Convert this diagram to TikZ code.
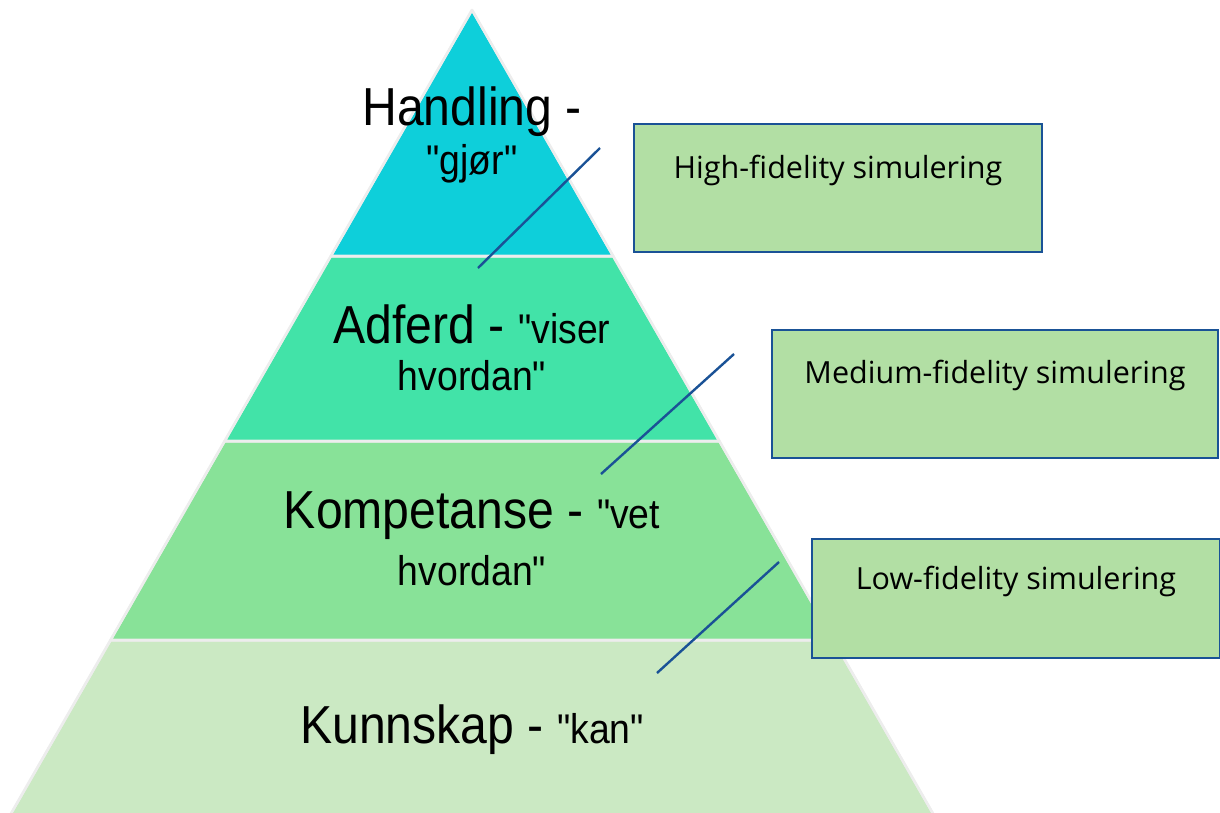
\documentclass[tikz,border=0pt]{standalone}
\usepackage{fontspec}
\setmainfont{Liberation Sans}
\newfontfamily\pyrfont[FakeStretch=0.9]{Liberation Sans}
\newfontfamily\boxfont{Open Sans}
\definecolor{lay1}{HTML}{0ECFDA}
\definecolor{lay2}{HTML}{42E3A8}
\definecolor{lay3}{HTML}{88E298}
\definecolor{lay4}{HTML}{CBE9C3}
\definecolor{sepcol}{HTML}{EDEDED}
\definecolor{boxfill}{HTML}{B2DFA4}
\definecolor{boxline}{HTML}{1A5296}
\newcommand{\bigt}{\pyrfont\fontsize{53.5}{60}\selectfont}
\newcommand{\smallt}{\pyrfont\fontsize{41.5}{48}\selectfont}
\tikzset{
  layer/.style={draw=sepcol, line width=2.5pt, line join=round},
  ptext/.style={inner sep=0pt, anchor=base, text=black},
  simbox/.style={draw=boxline, fill=boxfill, line width=2.8pt, inner sep=0pt},
  btext/.style={inner sep=0pt, anchor=base, font=\boxfont\fontsize{30.5}{36}\selectfont},
  conn/.style={draw=boxline, line width=2.4pt}
}
\begin{document}
\begin{tikzpicture}[x=1pt,y=-1pt]
\useasboundingbox (0,0) rectangle (1220,812);
\clip (0,0) rectangle (1220,812);
% pyramid layers
\fill[layer, fill=lay4] (110.6,640) -- (833.4,640) -- (942.4,830) -- (1.6,830) -- cycle;
\fill[layer, fill=lay3] (224.7,441) -- (719.3,441) -- (833.4,640) -- (110.6,640) -- cycle;
\fill[layer, fill=lay2] (330.9,256) -- (613.1,256) -- (719.3,441) -- (224.7,441) -- cycle;
\fill[layer, fill=lay1] (472,10) -- (613.1,256) -- (330.9,256) -- cycle;
\draw[layer] (110.6,640) -- (833.4,640) -- (942.4,830) -- (1.6,830) -- cycle;
\draw[layer] (224.7,441) -- (719.3,441) -- (833.4,640) -- (110.6,640) -- cycle;
\draw[layer] (330.9,256) -- (613.1,256) -- (719.3,441) -- (224.7,441) -- cycle;
\draw[layer] (472,10) -- (613.1,256) -- (330.9,256) -- cycle;
% pyramid texts
\node[ptext] (t1a) at (472,125) {\bigt Handling - };
\node[ptext] (t1b) at (472,174) {\smallt "gjør"};
\node[ptext] (t2a) at (472,343) {\bigt Adferd - \smallt"viser};
\node[ptext] (t2b) at (472,390) {\smallt hvordan"};
\node[ptext] (t3a) at (472,528) {\bigt Kompetanse - \smallt"vet};
\node[ptext] (t3b) at (472,585) {\smallt hvordan"};
\node[ptext] (t4a) at (472,743) {\bigt Kunnskap - \smallt"kan"};
% boxes
\node[simbox, minimum width=408pt, minimum height=128pt] (hf) at (838,188) {};
\node[simbox, minimum width=446pt, minimum height=128pt] (mf) at (995,394) {};
\node[simbox, minimum width=408pt, minimum height=119pt] (lf) at (1016,598.5) {};
\node[btext] (hft) at ([yshift=-56pt]hf.north) {High-fidelity simulering};
\node[btext] (mft) at ([yshift=-55pt]mf.north) {Medium-fidelity simulering};
\node[btext] (lft) at ([yshift=-52pt]lf.north) {Low-fidelity simulering};
% connectors
\coordinate (c1a) at (600,148);
\coordinate (c1b) at (478,268);
\coordinate (c2a) at (734,354);
\coordinate (c2b) at (601,474);
\coordinate (c3a) at (779,562);
\coordinate (c3b) at (657,673);
\draw[conn] (c1a) -- (c1b);
\draw[conn] (c2a) -- (c2b);
\draw[conn] (c3a) -- (c3b);
\end{tikzpicture}
\end{document}
